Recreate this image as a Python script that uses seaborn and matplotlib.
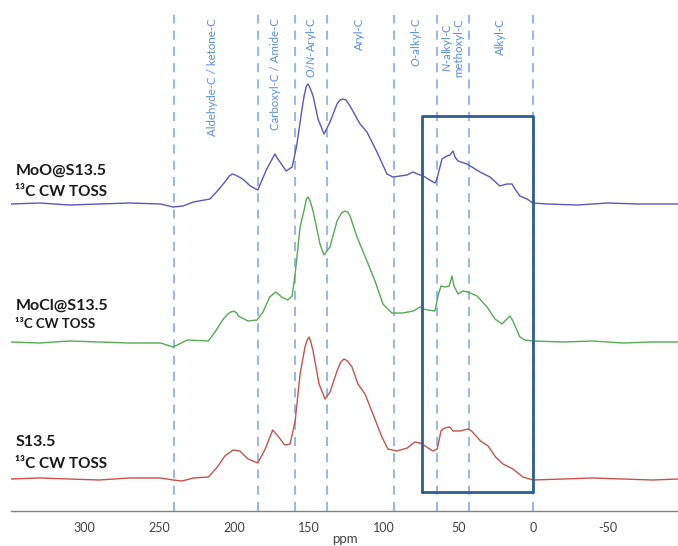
import numpy as np
import pandas as pd
import matplotlib
matplotlib.use("Agg")
import matplotlib.pyplot as plt
import seaborn as sns

# ---- data ----
moo_ppm = [349, 330, 310, 290, 270, 249, 240.6, 234, 227, 216, 211, 206, 203, 201, 199, 194, 189, 184,
           178, 174, 172.5, 171, 165, 161, 158, 154.4, 153, 151.5, 150.4, 149, 147, 143.7, 139.7,
           135.7, 131, 129, 127, 125, 122.3,
           115.6, 111, 104.3, 97.6, 93.6, 88.9, 84.2, 80.2, 75.5, 74.2, 70.2, 65.5, 64.2, 60.8,
           57.5, 55.5, 53.5, 52.1, 50.1, 44.1, 40.8, 35.4, 28.7, 22.1, 17.4, 14, 12, 8.7, 4, 0,
           -9.4, -30, -50, -70, -97]
moo_int = [0, 1, -1, 0, 1, 0, -3, -2, 2, 5, 13, 22, 28, 30, 29, 25, 18, 14,
           35, 46, 50, 46, 33, 37, 58, 95, 108, 118, 120, 116, 108, 85, 70,
           82, 100, 104, 105, 104, 98,
           80, 72, 52, 30, 27, 28, 29, 32, 29, 29, 25, 21, 25, 45,
           48, 49, 53, 47, 43, 40, 37, 32, 27, 18, 20, 20, 15, 8, 5, 1,
           0, -1, 1, 0, 0]

mocl_ppm = [349, 330, 310, 290, 270, 249, 240.6, 231, 217, 212.6, 207, 204, 202, 200, 198, 197, 190.5,
            184.5, 180.5, 176, 172, 168, 164, 161, 159, 155.7, 153, 151.5, 150.4, 149, 147, 142.4,
            139.7, 135.7, 131, 128, 125.7, 124, 122.3, 117.6, 111, 105.6, 100.3, 94.3, 87, 80,
            75.5, 73.5, 70.2, 65.5,
            63.5, 61.5, 58.8, 56, 54.1, 52.8, 50, 46.8, 43.4, 37.4, 30.7, 25.4, 20.7, 17.4, 15.4,
            13.4, 8.7, 5.3, 0, -20, -40, -60, -80, -97]
mocl_int = [0, -1, 1, 0, -1, -1, -5, 2, 1, 10, 23, 28, 30, 31, 29, 26, 21,
            22, 30, 45, 50, 45, 42, 46, 68, 115, 132, 143, 145, 141, 131, 98,
            87, 95, 121, 129, 131, 130, 126, 105, 81, 61, 38, 29, 29, 31,
            35, 33, 32, 31,
            46, 56, 55, 56, 66, 56, 48, 51, 50, 46, 35, 23, 18, 23, 26,
            21, 5, 2, 1, 0, 1, -1, 0, 0]

s_ppm = [349, 330, 310, 290, 270, 249, 240.6, 234.6, 227, 217, 211, 206, 200.5, 196, 190.5, 184,
         179, 174, 170.5, 166, 162.4, 159, 155.7, 152.4, 151, 149.7, 148.5, 147, 143, 139, 135.7,
         131, 128.5, 126.3, 124,
         121, 117, 112.3, 107, 101, 97, 91, 84, 79, 75.5, 71, 67, 64, 61.5, 59, 55.5, 53.5, 49,
         43.4, 41, 35, 30, 25, 20, 13.4, 6.7, 0, -20, -40, -60, -80, -97]
s_int = [0, 1, 0, -1, 1, 1, -1, -2, 1, 2, 12, 23, 29, 28, 20, 16,
         30, 49, 43, 34, 35, 58, 105, 132, 139, 142, 137, 128, 95, 80, 87,
         108, 117, 120, 118,
         112, 95, 85, 65, 42, 30, 28, 31, 37, 36, 32, 28, 30, 48, 51, 52, 48, 48,
         50, 48, 38, 33, 22, 15, 10, 2, -1, 0, 1, 0, -1, 0]

names = ["MoO@S13.5", "MoCl@S13.5", "S13.5"]
offsets = [307, 169, 32]
colors = ["#5b57b8", "#57a957", "#c4534f"]

region_ppm = [240, 184, 159, 137.5, 93, 64, 43, 0]
region_labels = ["Aldehyde-C / ketone-C", "Carboxyl-C / Amide-C", "$\\it{O/N}$-Aryl-C",
                 "Aryl-C", "$\\it{O}$-alkyl-C", "$\\it{N}$-alkyl-C\nmethoxyl-C", "Alkyl-C"]
label_ppm = [214, 172, 148, 116, 78, 54, 22]

box_ppm = (74, 0)
box_y = (19, 395)

# ---- build frame ----
frames = []
for n, p, v, o in zip(names, [moo_ppm, mocl_ppm, s_ppm], [moo_int, mocl_int, s_int], offsets):
    frames.append(pd.DataFrame({"ppm": p, "y": np.array(v) + o, "sample": n}))
df = pd.concat(frames, ignore_index=True)

sns.set_style("white")
plt.rcParams["font.family"] = ["Lato", "DejaVu Sans"]
plt.rcParams["mathtext.fontset"] = "custom"
plt.rcParams["mathtext.it"] = "Lato:italic"
plt.rcParams["mathtext.rm"] = "Lato"
plt.rcParams["axes.unicode_minus"] = False

fig = plt.figure(figsize=(6.78, 5.46), dpi=100)
ax = fig.add_axes([11 / 678, 35 / 546, 667 / 678, 511 / 546])

sns.lineplot(data=df, x="ppm", y="y", hue="sample", palette=dict(zip(names, colors)),
             sort=False, estimator=None, lw=1.0, legend=False, ax=ax)

ax.set_xlim(349, -97)
ax.set_ylim(0, 511)

# dashed region lines
ax.vlines(region_ppm, 0, 496, colors="#8db3e2", linestyles=(0, (5, 4)), lw=1.3, zorder=1)

for t, p in zip(region_labels, label_ppm):
    ax.text(p, 493, t, rotation=90, ha="center", va="top", color="#5a8ed6",
            fontsize=8.3, linespacing=0.9)

# box
ax.plot([box_ppm[0], box_ppm[1], box_ppm[1], box_ppm[0], box_ppm[0]],
        [box_y[0], box_y[0], box_y[1], box_y[1], box_y[0]], color="#2f5d93", lw=2.0, zorder=3)

# sample labels
lab = [("MoO@S13.5", 340, 319, 11), ("MoCl@S13.5", 205, 187, 9.5), ("S13.5", 69, 47, 11)]
for n, y1, y2, fs2 in lab:
    ax.text(346, y1, n, fontsize=11.5, fontweight="bold", va="center", ha="left", color="#1a1a1a")
    ax.text(346, y2, "¹³C CW TOSS", fontsize=fs2, fontweight="bold", va="center", ha="left",
            color="#1a1a1a")

# axes styling
for s in ["left", "right", "top"]:
    ax.spines[s].set_visible(False)
ax.spines["bottom"].set_color("#808080")
ax.spines["bottom"].set_linewidth(1.0)
ax.set_yticks([])
ax.set_xticks([300, 250, 200, 150, 100, 50, 0, -50])
ax.set_xticks([325, 275, 225, 175, 125, 75, 25, -25, -75], minor=True)
ax.tick_params(axis="x", which="both", direction="out", length=3, width=0.8, color="#808080",
               labelsize=9, labelcolor="#404040", pad=5)
ax.set_xlabel("ppm", fontsize=9.5, color="#404040", labelpad=-1)
ax.set_ylabel("")

fig.savefig("out.png", dpi=100)
